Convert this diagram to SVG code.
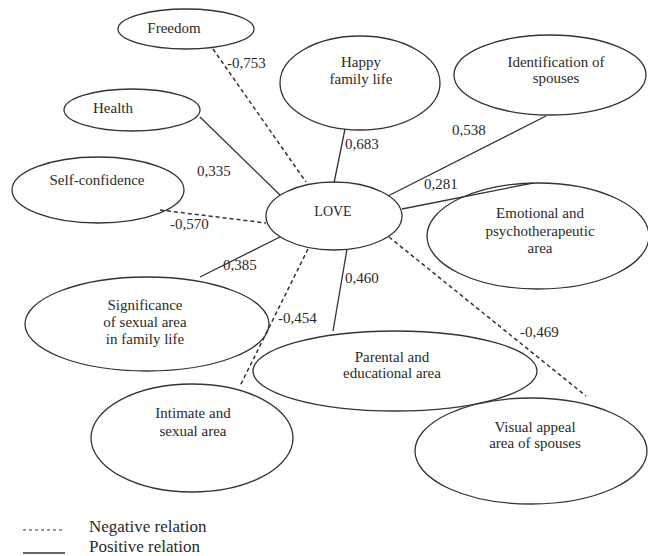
<svg xmlns="http://www.w3.org/2000/svg" width="648" height="556" viewBox="0 0 648 556">
<style>
.n ellipse{fill:none;stroke:#333;stroke-width:1.3}
text{font-family:"Liberation Serif","Times New Roman",serif;font-size:15px;fill:#2a2a2a}
.n text{text-anchor:middle}
.pos{stroke:#333;stroke-width:1.3;fill:none}
.neg{stroke:#333;stroke-width:1.5;stroke-dasharray:4 3;fill:none}
.lg{font-size:17px}
</style>
<rect width="648" height="556" fill="#fff"/>
<g id="connectors">
<line class="neg" x1="213" y1="49" x2="306" y2="182"/>
<line class="pos" x1="200" y1="117" x2="280" y2="195"/>
<line class="pos" x1="345" y1="129" x2="334" y2="183"/>
<line class="pos" x1="546" y1="116" x2="388" y2="196"/>
<line class="pos" x1="402" y1="209" x2="533" y2="183"/>
<line class="neg" x1="160" y1="210" x2="266" y2="223"/>
<line class="pos" x1="200" y1="277" x2="280" y2="237"/>
<line class="neg" x1="308" y1="249" x2="240" y2="386"/>
<line class="pos" x1="347" y1="249" x2="333" y2="331"/>
<line class="neg" x1="389" y1="237" x2="586" y2="396"/>
<text x="227" y="68">-0,753</text>
<text x="197" y="176">0,335</text>
<text x="345" y="149">0,683</text>
<text x="452" y="135">0,538</text>
<text x="424" y="189">0,281</text>
<text x="170" y="229">-0,570</text>
<text x="223" y="270">0,385</text>
<text x="278" y="323">-0,454</text>
<text x="345" y="283">0,460</text>
<text x="520" y="337">-0,469</text>
</g>
<g id="love" class="n"><ellipse cx="334" cy="216" rx="68" ry="34"/><text x="333" y="216" style="font-size:14px">LOVE</text></g>
<g id="freedom" class="n"><ellipse cx="186" cy="29" rx="68" ry="20"/><text x="174" y="33">Freedom</text></g>
<g id="health" class="n"><ellipse cx="132" cy="110" rx="68" ry="21"/><text x="113" y="113">Health</text></g>
<g id="self-confidence" class="n"><ellipse cx="98" cy="190" rx="86" ry="33"/><text x="97" y="185">Self-confidence</text></g>
<g id="happy" class="n"><ellipse cx="360" cy="83" rx="80" ry="47"/><text x="361" y="67">Happy</text><text x="361" y="84">family life</text></g>
<g id="identification" class="n"><ellipse cx="550" cy="75" rx="96" ry="40"/><text x="556" y="67">Identification of</text><text x="556" y="83">spouses</text></g>
<g id="emotional" class="n"><ellipse cx="538" cy="236" rx="111" ry="53"/><text x="540" y="218">Emotional and</text><text x="540" y="236">psychotherapeutic</text><text x="540" y="253">area</text></g>
<g id="significance" class="n"><ellipse cx="147" cy="324" rx="122" ry="47"/><text x="145" y="310">Significance</text><text x="145" y="327">of sexual area</text><text x="145" y="344">in family life</text></g>
<g id="parental" class="n"><ellipse cx="395" cy="371" rx="142" ry="40"/><text x="392" y="362">Parental and</text><text x="392" y="378">educational area</text></g>
<g id="intimate" class="n"><ellipse cx="192" cy="438" rx="101" ry="54"/><text x="193" y="418">Intimate and</text><text x="193" y="436">sexual area</text></g>
<g id="visual" class="n"><ellipse cx="531" cy="451" rx="116" ry="53"/><text x="535" y="432">Visual appeal</text><text x="535" y="448">area of spouses</text></g>
<g id="legend">
<line class="neg" x1="23" y1="530" x2="65" y2="530" style="stroke-width:1.2;stroke-dasharray:3 3"/>
<text class="lg" x="89" y="532">Negative relation</text>
<line class="pos" x1="23" y1="553" x2="65" y2="553"/>
<text class="lg" x="89" y="552">Positive relation</text>
</g>
</svg>
